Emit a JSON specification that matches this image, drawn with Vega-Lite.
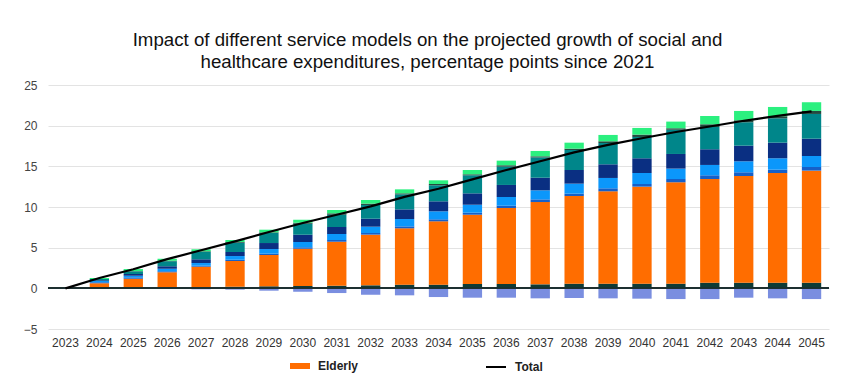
{
  "$schema": "https://vega.github.io/schema/vega-lite/v6.json",
  "width": 781,
  "height": 244,
  "autosize": "none",
  "padding": {"left": 48, "top": 85, "right": 14, "bottom": 48},
  "background": "white",
  "config": {"font": "Liberation Sans", "view": {"stroke": null}},
  "title": {
    "text": ["Impact of different service models on the projected growth of social and", "healthcare expenditures, percentage points since 2021"],
    "fontSize": 18.7, "fontWeight": "normal", "color": "#111", "anchor": "middle", "dx": -11, "offset": 7, "lineHeight": 22
  },
  "data": {"values": [
    {"year": "2023", "total": 0},
    {"year": "2024", "Base": 0.03, "Elderly": 0.58, "S2": 0.13, "S3": 0.16, "S4": 0.08, "S5": 0.16, "S6": 0.0, "S7": 0.13, "Neg": 0, "total": 1.27},
    {"year": "2025", "Base": 0.05, "Elderly": 1.13, "S2": 0.17, "S3": 0.2, "S4": 0.21, "S5": 0.33, "S6": 0.03, "S7": 0.25, "Neg": -0.03, "total": 2.34},
    {"year": "2026", "Base": 0.12, "Elderly": 1.85, "S2": 0.12, "S3": 0.32, "S4": 0.29, "S5": 0.62, "S6": 0.08, "S7": 0.24, "Neg": -0.05, "total": 3.59},
    {"year": "2027", "Base": 0.15, "Elderly": 2.51, "S2": 0.12, "S3": 0.33, "S4": 0.46, "S5": 0.9, "S6": 0.08, "S7": 0.25, "Neg": -0.12, "total": 4.68},
    {"year": "2028", "Base": 0.2, "Elderly": 3.16, "S2": 0.16, "S3": 0.45, "S4": 0.5, "S5": 1.14, "S6": 0.09, "S7": 0.24, "Neg": -0.16, "total": 5.78},
    {"year": "2029", "Base": 0.25, "Elderly": 3.85, "S2": 0.16, "S3": 0.57, "S4": 0.74, "S5": 1.23, "S6": 0.08, "S7": 0.33, "Neg": -0.29, "total": 6.92},
    {"year": "2030", "Base": 0.28, "Elderly": 4.59, "S2": 0.17, "S3": 0.65, "S4": 0.91, "S5": 1.35, "S6": 0.12, "S7": 0.37, "Neg": -0.41, "total": 8.03},
    {"year": "2031", "Base": 0.32, "Elderly": 5.41, "S2": 0.21, "S3": 0.74, "S4": 0.86, "S5": 1.51, "S6": 0.17, "S7": 0.41, "Neg": -0.58, "total": 9.05},
    {"year": "2032", "Base": 0.37, "Elderly": 6.23, "S2": 0.2, "S3": 0.78, "S4": 0.98, "S5": 1.69, "S6": 0.16, "S7": 0.45, "Neg": -0.79, "total": 10.07},
    {"year": "2033", "Base": 0.45, "Elderly": 6.93, "S2": 0.24, "S3": 0.9, "S4": 1.19, "S5": 1.85, "S6": 0.12, "S7": 0.49, "Neg": -0.86, "total": 11.25},
    {"year": "2034", "Base": 0.45, "Elderly": 7.79, "S2": 0.25, "S3": 0.98, "S4": 1.23, "S5": 1.97, "S6": 0.16, "S7": 0.45, "Neg": -1.07, "total": 12.25},
    {"year": "2035", "Base": 0.53, "Elderly": 8.52, "S2": 0.25, "S3": 0.98, "S4": 1.4, "S5": 2.22, "S6": 0.12, "S7": 0.53, "Neg": -1.15, "total": 13.4},
    {"year": "2036", "Base": 0.53, "Elderly": 9.35, "S2": 0.28, "S3": 1.07, "S4": 1.48, "S5": 2.25, "S6": 0.17, "S7": 0.57, "Neg": -1.15, "total": 14.55},
    {"year": "2037", "Base": 0.49, "Elderly": 10.12, "S2": 0.33, "S3": 1.11, "S4": 1.55, "S5": 2.5, "S6": 0.13, "S7": 0.66, "Neg": -1.23, "total": 15.62},
    {"year": "2038", "Base": 0.57, "Elderly": 10.78, "S2": 0.29, "S3": 1.23, "S4": 1.68, "S5": 2.46, "S6": 0.16, "S7": 0.74, "Neg": -1.19, "total": 16.72},
    {"year": "2039", "Base": 0.57, "Elderly": 11.36, "S2": 0.37, "S3": 1.27, "S4": 1.68, "S5": 2.62, "S6": 0.21, "S7": 0.78, "Neg": -1.23, "total": 17.63},
    {"year": "2040", "Base": 0.57, "Elderly": 11.93, "S2": 0.33, "S3": 1.35, "S4": 1.81, "S5": 2.62, "S6": 0.29, "S7": 0.82, "Neg": -1.27, "total": 18.45},
    {"year": "2041", "Base": 0.57, "Elderly": 12.47, "S2": 0.4, "S3": 1.28, "S4": 1.8, "S5": 2.98, "S6": 0.18, "S7": 0.82, "Neg": -1.32, "total": 19.22},
    {"year": "2042", "Base": 0.69, "Elderly": 12.75, "S2": 0.46, "S3": 1.27, "S4": 1.93, "S5": 2.74, "S6": 0.33, "S7": 1.02, "Neg": -1.32, "total": 19.9},
    {"year": "2043", "Base": 0.69, "Elderly": 13.12, "S2": 0.46, "S3": 1.35, "S4": 1.92, "S5": 2.88, "S6": 0.24, "S7": 1.15, "Neg": -1.15, "total": 20.6},
    {"year": "2044", "Base": 0.69, "Elderly": 13.49, "S2": 0.41, "S3": 1.4, "S4": 1.92, "S5": 3.0, "S6": 0.25, "S7": 1.14, "Neg": -1.23, "total": 21.2},
    {"year": "2045", "Base": 0.69, "Elderly": 13.78, "S2": 0.45, "S3": 1.35, "S4": 2.13, "S5": 3.04, "S6": 0.37, "S7": 1.07, "Neg": -1.32, "total": 21.75}
  ]},
  "layer": [
    {
      "transform": [{"fold": ["Base", "Elderly", "S2", "S3", "S4", "S5", "S6", "S7", "Neg"], "as": ["series", "value"]}],
      "mark": {"type": "bar"},
      "encoding": {
        "x": {
          "field": "year", "type": "ordinal",
          "scale": {"paddingInner": 0.43, "paddingOuter": 0.23},
          "axis": {"title": null, "labelAngle": 0, "domain": false, "ticks": false, "grid": false, "labelPadding": 8, "labelFontSize": 12, "labelColor": "#333"}
        },
        "y": {
          "field": "value", "type": "quantitative", "stack": "zero",
          "scale": {"domain": [-5, 25], "nice": false, "zero": false},
          "axis": {"title": null, "values": [-5, 0, 5, 10, 15, 20, 25], "grid": true, "gridColor": "#e3e3e3", "domain": false, "ticks": false, "labelPadding": 11, "labelFontSize": 12, "labelColor": "#444"}
        },
        "order": {"field": "series", "sort": "ascending"},
        "color": {
          "field": "series", "type": "nominal",
          "scale": {
            "domain": ["Base", "Elderly", "S2", "S3", "S4", "S5", "S6", "S7", "Neg"],
            "range": ["#0d3b36", "#ff6d00", "#1660c8", "#0b97fb", "#0a2f82", "#00868a", "#234a40", "#2bf07f", "#7a8ee0"]
          },
          "legend": {
            "values": ["Elderly"], "orient": "none", "legendX": 242, "legendY": 271, "title": null,
            "symbolType": "M-1,-0.3H1V0.3H-1Z", "symbolSize": 400, "symbolStrokeWidth": 0,
            "labelFontSize": 12, "labelFontWeight": "bold", "labelColor": "#222", "labelOffset": 8
          }
        }
      }
    },
    {
      "mark": {"type": "rule", "color": "#1e3133", "strokeWidth": 1},
      "encoding": {"y": {"datum": 0}}
    },
    {
      "mark": {"type": "line", "strokeWidth": 2.2},
      "encoding": {
        "x": {"field": "year", "type": "ordinal"},
        "y": {"field": "total", "type": "quantitative"},
        "stroke": {
          "datum": "Total",
          "scale": {"range": ["#000000"]},
          "legend": {
            "orient": "none", "legendX": 437, "legendY": 271, "title": null,
            "symbolType": "stroke", "symbolSize": 400, "symbolStrokeWidth": 2,
            "labelFontSize": 12, "labelFontWeight": "bold", "labelColor": "#222", "labelOffset": 8
          }
        }
      }
    }
  ]
}
